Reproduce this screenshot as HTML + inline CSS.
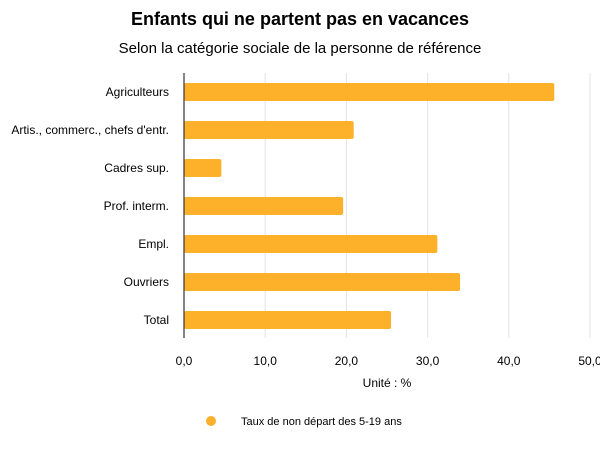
<!DOCTYPE html>
<html><head><meta charset="utf-8"><style>
body{margin:0;background:#fff;font-family:"Liberation Sans",sans-serif;}
</style></head><body>
<svg width="600" height="450" xmlns="http://www.w3.org/2000/svg" font-family="Liberation Sans, sans-serif">
<text x="300" y="25" text-anchor="middle" font-size="18" font-weight="bold" fill="#000">Enfants qui ne partent pas en vacances</text>
<text x="300" y="53" text-anchor="middle" font-size="15" fill="#000">Selon la catégorie sociale de la personne de référence</text>
<g id="grid"></g>
<g id="bars"></g>
<line x1="184" y1="73" x2="184" y2="338" stroke="#333" stroke-width="1.2"/>
<g id="ylabels"></g>
<g id="xticks"></g>
<text x="387" y="387" text-anchor="middle" font-size="12" fill="#000">Unité : %</text>
<g>
<circle cx="211" cy="421" r="5" fill="#FDB12A"/>
<text x="241" y="425" font-size="11" fill="#000">Taux de non départ des 5-19 ans</text>
</g>
</svg>
<script>
const categories=["Agriculteurs","Artis., commerc., chefs d'entr.","Cadres sup.","Prof. interm.","Empl.","Ouvriers","Total"];
const values=[45.6,20.9,4.6,19.6,31.2,34.0,25.5];
const ticks=[0,10,20,30,40,50];
const tickLabels=["0,0","10,0","20,0","30,0","40,0","50,0"];
const NS="http://www.w3.org/2000/svg";
const x=v=>184+v*(590-184)/50;
const yC=i=>92+i*38;
function mk(t,a,p){const e=document.createElementNS(NS,t);for(const k in a)e.setAttribute(k,a[k]);p.appendChild(e);return e;}
const g=document.getElementById('grid'),b=document.getElementById('bars'),yl=document.getElementById('ylabels'),xt=document.getElementById('xticks');
ticks.forEach((t,i)=>{
 if(t>0){const l=mk('line',{x1:x(t),x2:x(t),y1:73,y2:338,stroke:'#e3e3e3','stroke-width':1},g);
 
 }
 const tx=mk('text',{x:x(t),y:365,'text-anchor':'middle','font-size':12,fill:'#000'},xt);
 tx.textContent=tickLabels[i];
 
 
});
categories.forEach((c,i)=>{
 const r=mk('rect',{x:184,y:yC(i)-9,width:x(values[i])-184,height:18,rx:2,fill:'#FDB12A'},b);
 
 
 const t=mk('text',{x:169,y:yC(i)+4,'text-anchor':'end','font-size':12,fill:'#000'},yl);
 t.textContent=c;
 
 
});
</script>
</body></html>
